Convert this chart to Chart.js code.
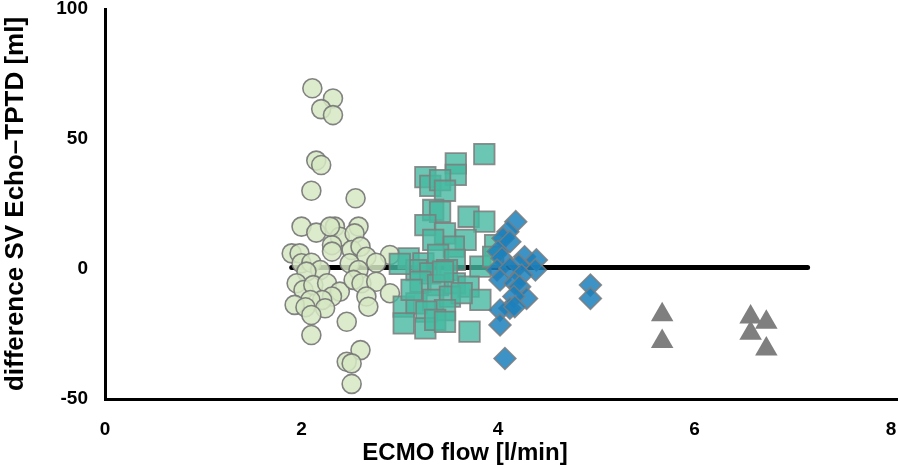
<!DOCTYPE html>
<html>
<head>
<meta charset="utf-8">
<script src="https://cdn.jsdelivr.net/npm/chart.js@4.4.0/dist/chart.umd.min.js"></script>
<style>
  html, body { margin: 0; padding: 0; background: #fff; }
  #wrap { width: 898px; height: 466px; }
</style>
</head>
<body>
<div id="wrap"><canvas id="myChart" width="898" height="466"></canvas></div>
<script>
const ctx = document.getElementById('myChart');

// ECMO flow (x) / difference SV (y)
const circleX = [2.11, 2.32, 2.20, 2.32, 2.15, 2.20, 2.10, 2.55, 2.00, 2.15, 2.34, 2.39, 2.31, 2.31, 2.29, 2.58, 2.54, 2.51, 2.60, 2.90,
                 1.90, 1.98, 2.00, 2.10, 2.19, 2.05, 2.66, 2.76, 2.49, 2.58, 1.95, 2.02, 2.12, 2.26, 2.39, 2.31, 2.21, 2.09, 1.93, 2.04,
                 2.24, 2.10, 2.53, 2.61, 2.76, 2.90, 2.66, 2.68, 2.10, 2.46, 2.60, 2.46, 2.51, 2.51];
const circleY = [69.5, 65.6, 61.5, 59.2, 41.7, 40, 30.1, 27.2, 16.3, 14, 16.3, 12.4, 9.2, 6.7, 16.3, 16.3, 13.7, 7.3, 8.6, 5.4,
                 6, 6, 2.2, 2.4, -0.4, -1, 4.7, 2.4, 2.2, -0.4, -5.5, -8.1, -6.2, -5.5, -8.7, -10.6, -11.9, -11.9, -13.8, -14.7,
                 -15.1, -17.7, -4.2, -5.5, -4.9, -9.3, -10.6, -14.5, -25.4, -20.3, -31.2, -35.7, -36.3, -44.2];

const squareX = [3.86, 3.57, 3.26, 3.57, 3.31, 3.41, 3.46, 3.34, 3.41, 3.70, 3.86, 3.26, 3.46, 3.34, 3.67, 3.97, 3.55, 3.09, 3.24, 3.39,
                 3.56, 3.82, 3.17, 3.31, 3.48, 3.95, 3.21, 3.39, 3.56, 3.70, 3.82, 3.04, 3.17, 3.34, 3.51, 3.63, 3.46, 3.27, 3.04, 3.26,
                 3.36, 3.46, 3.71, 3.00, 3.12, 3.44];
const squareY = [44.2, 40.6, 35.3, 36.2, 32.0, 34.2, 30.1, 22.7, 22.0, 20.1, 18.2, 16.9, 13.7, 11.2, 11.2, 9.2, 8.6, 4.1, 2.2, 5.4,
                 3.5, 0.9, -0.4, -1.7, -0.4, 4.7, -4.9, -6.2, -5.5, -6.8, -11.9, -14.5, -13.2, -11.9, -10.6, -9.3, -15.8, -16.4, -20.9, -22.8,
                 -19.6, -20.3, -24.1, 2, -8, -1];

const diamondX = [4.18, 4.10, 4.05, 4.12, 4.00, 4.04, 4.27, 4.39, 4.21, 3.99, 4.12, 4.38, 4.24, 4.02, 4.17, 4.22, 4.29, 4.16, 4.12, 4.02,
                  4.17, 4.02, 4.07, 4.94, 4.94];
const diamondY = [18.2, 14.3, 11.8, 10.5, 6.7, 4.1, 4.7, 3.5, 1.5, -0.4, 0.3, -0.4, -2.3, -4.2, -5.5, -6.8, -11.3, -10.6, -15.1, -15.8,
                  -14.5, -21.5, -34.4, -6.2, -11.3];

const triangleX = [5.67, 5.67, 6.57, 6.73, 6.57, 6.73];
const triangleY = [-17.6, -27.9, -18.5, -20.5, -24.7, -30.8];

// flat black reference line
const lineX = [1.9, 7.15];
const lineY = [0.6, 0.6];

const xTicks = [0, 2, 4, 6, 8];
const yTicks = [-50, 0, 50, 100];

const X_TITLE = 'ECMO flow [l/min]';
const Y_TITLE = 'difference SV Echo\u2013TPTD [ml]';

const toPoints = (xs, ys) => xs.map((x, i) => ({x: x, y: ys[i]}));

const FONT = "'Liberation Sans', Arial, sans-serif";
const tickFont = { size: 19, family: FONT, weight: 'bold' };

// x title sits a bit left of the plot centre in the original, so draw it by hand
const xTitlePlugin = {
  id: 'xTitle',
  afterDraw: (chart) => {
    const c = chart.ctx;
    c.save();
    c.font = 'bold 24px ' + FONT;
    c.fillStyle = '#000';
    c.textAlign = 'center';
    c.textBaseline = 'alphabetic';
    c.fillText(X_TITLE, 465, 460);
    c.restore();
  }
};

const myChart = new Chart(ctx, {
  type: 'scatter',
  data: {
    datasets: [
      {
        label: 'line',
        data: toPoints(lineX, lineY),
        showLine: true,
        borderColor: '#000',
        borderWidth: 5,
        borderCapStyle: 'round',
        pointRadius: 0,
        order: 5
      }, {
        label: 'circles',
        data: toPoints(circleX, circleY),
        pointStyle: 'circle',
        pointRadius: 9.5,
        backgroundColor: 'rgba(214, 231, 195, 0.85)',
        borderColor: 'rgba(118, 118, 118, 0.9)',
        borderWidth: 1.6,
        order: 4
      }, {
        label: 'squares',
        data: toPoints(squareX, squareY),
        pointStyle: 'rect',
        pointRadius: 14.5,
        backgroundColor: 'rgba(70, 185, 160, 0.8)',
        borderColor: 'rgba(125, 125, 125, 0.85)',
        borderWidth: 1.8,
        order: 3
      }, {
        label: 'diamonds',
        data: toPoints(diamondX, diamondY),
        pointStyle: 'rectRot',
        pointRadius: 11,
        backgroundColor: 'rgba(28, 128, 188, 0.85)',
        borderColor: 'rgba(125, 125, 125, 0.85)',
        borderWidth: 1.5,
        order: 2
      }, {
        label: 'triangles',
        data: toPoints(triangleX, triangleY),
        pointStyle: 'triangle',
        pointRadius: 13,
        backgroundColor: '#7f7f7f',
        borderWidth: 0,
        order: 1
      }
    ]
  },
  options: {
    responsive: false,
    animation: false,
    layout: { autoPadding: false, padding: { top: 9, right: 0, left: 0, bottom: 0 } },
    plugins: {
      legend: { display: false },
      tooltip: { enabled: false }
    },
    scales: {
      x: {
        type: 'linear',
        min: 0,
        max: 8.07,
        afterBuildTicks: (s) => { s.ticks = xTicks.map(v => ({value: v})); },
        afterFit: (s) => { s.height = 67; s.paddingLeft = 0; s.paddingRight = 0; },
        grid: { display: false, drawTicks: false },
        border: { display: true, color: '#000', width: 3 },
        ticks: { color: '#000', font: tickFont, padding: 19, maxRotation: 0 },
        title: { display: false }
      },
      y: {
        type: 'linear',
        min: -50,
        max: 100,
        afterBuildTicks: (s) => { s.ticks = yTicks.map(v => ({value: v})); },
        afterFit: (s) => { s.width = 105; s.paddingTop = 0; s.paddingBottom = 0; },
        grid: { display: false, drawTicks: false },
        border: { display: true, color: '#000', width: 3 },
        ticks: { color: '#000', font: tickFont, padding: 17 },
        title: {
          display: true,
          text: Y_TITLE,
          color: '#000',
          padding: 0,
          font: { size: 26, family: FONT, weight: 'bold' }
        }
      }
    }
  },
  plugins: [xTitlePlugin]
});
</script>
</body>
</html>
